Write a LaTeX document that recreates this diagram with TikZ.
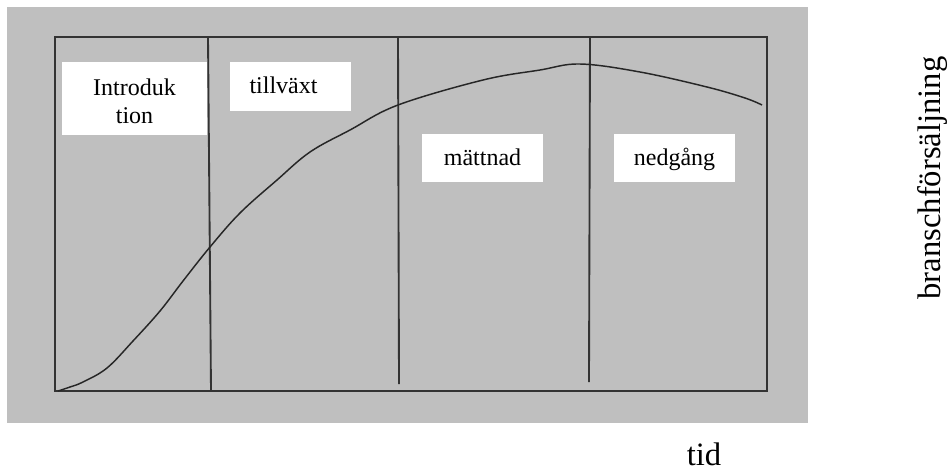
\documentclass[tikz,border=0pt]{standalone}
\usepackage{fontspec}
\setmainfont{Liberation Serif}
\begin{document}
\begin{tikzpicture}[x=0.75pt,y=-0.75pt,
  frameline/.style={draw=black!80,line width=1.4pt},
  phasebox/.style={fill=white,inner sep=0pt,align=center,
    text height=13pt,text depth=2.5pt,
    font=\fontsize{18}{21}\selectfont},
  axislabel/.style={font=\fontsize{24.5}{28}\selectfont},
  salescurve/.style={draw=black!85,line width=1.1pt}]
\useasboundingbox (0,0) rectangle (950,472);
% grey panel and chart frame
\fill[black!25] (7,7) rectangle (808,423);
\draw[frameline] (55,37) rectangle (767,391);
% phase separators
\coordinate (s1t) at (208,37);  \coordinate (s1b) at (211,391);
\coordinate (s2t) at (398,37);  \coordinate (s2b) at (399,384);
\coordinate (s3t) at (590,37);  \coordinate (s3b) at (589,382);
\draw[frameline] (s1t) -- (s1b);
\draw[frameline] (s2t) -- (s2b);
\draw[frameline] (s3t) -- (s3b);
% phase labels
\node[fill=white,inner sep=0pt,minimum width=108.75pt,minimum height=54.75pt,
  align=center,font=\fontsize{18}{21}\selectfont] (intro) at (134.5,98.5)
  {\rule{0pt}{16pt}Introduk\\tion};
\node[phasebox,minimum width=90.75pt,minimum height=36.75pt] (growth) at (290.5,86)
  {\hspace*{-10.5pt}tillväxt};
\node[phasebox,minimum width=90.75pt,minimum height=36pt] (mature) at (482.5,158) {mättnad};
\node[phasebox,minimum width=90.75pt,minimum height=36pt] (decline) at (674.5,158) {nedgång};
% industry sales curve
\draw[salescurve] plot[smooth,tension=0.6] coordinates {
  (58,391) (70,387) (83,382) (107,368) (133,341) (160,311) (183,281)
  (210,247) (240,213) (277,180) (310,152) (350,130) (398,105) (483,80)
  (540,70) (580,64) (640,72) (707,87) (745,98) (762,105)};
% axis labels
\node[axislabel,anchor=base] (time) at (704,465) {tid};
\node[axislabel,rotate=90] (sales) at (933,178) {branschförsäljning};
\end{tikzpicture}
\end{document}
